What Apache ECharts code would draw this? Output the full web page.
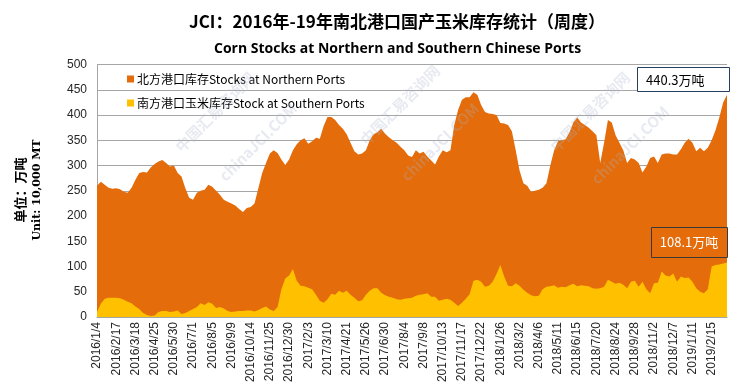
<!DOCTYPE html>
<html>
<head>
<meta charset="utf-8">
<script src="https://cdn.jsdelivr.net/npm/echarts@6/dist/echarts.min.js"></script>
<style>
html,body{margin:0;padding:0;background:#fff;}
#c{width:750px;height:386px;}
</style>
</head>
<body>
<div id="c"></div>
<script>
// Tick label dates (every 5th weekly observation)
var tickDates = ['2016/1/4','2016/2/17','2016/3/18','2016/4/25','2016/5/30','2016/7/1','2016/8/5','2016/9/9','2016/10/14','2016/11/25','2016/12/30',
  '2017/2/3','2017/3/10','2017/4/21','2017/5/26','2017/6/30','2017/8/4','2017/9/8','2017/10/13','2017/11/17','2017/12/22',
  '2018/1/26','2018/3/2','2018/4/6','2018/5/11','2018/6/15','2018/7/20','2018/8/24','2018/9/28','2018/11/2','2018/12/7',
  '2019/1/11','2019/2/15'];

// 北方港口库存 (万吨)
var northern = [
  260,268,262,256,254,255,253,248,246,256,
  272,285,287,286,296,303,308,311,305,298,
  300,285,278,255,236,232,246,250,252,262,
  258,250,242,232,228,225,221,214,208,216,
  218,225,255,285,305,324,330,325,312,301,
  312,330,342,350,354,343,348,355,353,378,
  396,396,390,380,373,362,345,328,322,324,
  330,350,362,366,373,363,356,350,345,337,
  330,320,317,330,324,327,318,310,302,318,
  330,326,330,380,410,430,435,435,445,440,
  420,406,403,402,400,384,383,380,368,330,
  290,265,260,248,250,252,256,265,300,330,
  348,350,352,366,385,395,385,380,375,368,
  360,305,345,390,385,360,345,330,305,315,
  312,305,286,298,315,318,305,322,324,324,
  322,322,332,345,353,345,328,335,328,335,
  350,370,395,425,440.3
];

// 南方港口玉米库存 (万吨)
var southern = [
  10,26,36,38,38,38,37,34,30,27,
  21,16,8,4,2,3,10,12,12,10,
  11,13,6,8,12,16,20,27,24,29,
  26,18,20,17,12,10,11,12,12,13,
  13,11,14,18,21,15,12,20,55,76,
  82,95,72,62,61,58,55,44,32,28,
  35,46,44,52,48,52,44,38,31,33,
  44,52,57,57,48,43,40,38,35,34,
  36,37,38,42,44,45,47,40,40,32,
  34,36,34,28,22,28,36,45,72,74,
  70,60,62,70,85,103,80,62,61,67,
  62,54,48,43,41,42,55,60,61,63,
  58,60,59,63,66,61,63,62,61,57,
  56,57,60,74,70,66,68,64,57,70,
  72,60,70,55,47,67,68,90,82,80,
  86,70,80,77,78,70,57,50,47,55,
  100,103,104,106,108.1
];

var seriesNames = ['北方港口库存Stocks at Northern Ports', '南方港口玉米库存Stock at Southern Ports'];
var yTicks = {min: 0, max: 500, interval: 50};

// Build weekly category labels from the tick dates
function fmt(d){ return d.getFullYear() + '/' + (d.getMonth()+1) + '/' + d.getDate(); }
var categories = [];
for (var t = 0; t < tickDates.length; t++) {
  var p = tickDates[t].split('/');
  var base = new Date(+p[0], +p[1]-1, +p[2]);
  categories.push(tickDates[t]);
  for (var k = 1; k < 5 && categories.length < northern.length; k++) {
    var d = new Date(base.getTime()); d.setDate(d.getDate() + 7*k);
    categories.push(fmt(d));
  }
}

var chart = echarts.init(document.getElementById('c'), null, {renderer: 'canvas'});
var wmColor = 'rgba(170,180,200,0.28)';
function wm(text, x, y) {
  return {type: 'text', x: x, y: y, rotation: Math.PI/4, z: 50,
    style: {text: text, fill: wmColor, font: 'bold 15px "Noto Sans CJK SC"', textAlign: 'center', textVerticalAlign: 'middle'}};
}
var option = {
  animation: false,
  backgroundColor: '#fff',
  title: [
    {text: 'JCI：2016年-19年南北港口国产玉米库存统计（周度）', left: 184, top: 8,
     textStyle: {fontFamily: 'Noto Sans CJK SC', fontWeight: 'bold', fontSize: 17, color: '#000'}},
    {text: 'Corn Stocks at Northern and Southern Chinese Ports', left: 209, top: 37,
     textStyle: {fontFamily: 'Open Sans', fontWeight: 'bold', fontSize: 14, color: '#000'}}
  ],
  legend: {
    orient: 'vertical', left: 122, top: 68, itemGap: 12,
    itemWidth: 7, itemHeight: 7, icon: 'rect',
    textStyle: {fontFamily: 'Noto Sans CJK SC', fontSize: 12, color: '#000', padding: [0,0,0,-2]},
    data: seriesNames
  },
  grid: {left: 97, right: 23, top: 64.5, bottom: 69, containLabel: false},
  xAxis: {
    type: 'category', data: categories, boundaryGap: false,
    axisLine: {show: true, lineStyle: {color: '#a6a6a6'}},
    axisTick: {show: false},
    axisLabel: {interval: 4, rotate: 90, fontFamily: 'Liberation Sans', fontSize: 12, color: '#262626', margin: 5}
  },
  yAxis: {
    type: 'value', min: yTicks.min, max: yTicks.max, interval: yTicks.interval,
    axisLine: {show: true, lineStyle: {color: '#a6a6a6'}},
    axisTick: {show: false},
    splitLine: {lineStyle: {color: '#a6a6a6', width: 1}},
    axisLabel: {fontFamily: 'Liberation Sans', fontSize: 12, color: '#262626', margin: 10}
  },
  series: [
    {name: seriesNames[0], type: 'line', data: northern, symbol: 'none', smooth: false,
     lineStyle: {width: 0}, itemStyle: {color: '#E46C0A'}, areaStyle: {color: '#E46C0A', opacity: 1}, z: 2},
    {name: seriesNames[1], type: 'line', data: southern, symbol: 'none', smooth: false,
     lineStyle: {width: 0}, itemStyle: {color: '#FFC000'}, areaStyle: {color: '#FFC000', opacity: 1}, z: 3}
  ],
  graphic: [
    {type: 'text', x: 20, y: 190, rotation: Math.PI/2,
     style: {text: '单位：万吨', font: 'bold 13px "Noto Sans CJK SC"', fill: '#000', textAlign: 'center', textVerticalAlign: 'middle'}},
    {type: 'text', x: 37, y: 190, rotation: Math.PI/2,
     style: {text: 'Unit: 10,000 MT', font: 'bold 11px "DejaVu Serif"', fill: '#000', textAlign: 'center', textVerticalAlign: 'middle'}},
    wm('中国汇易咨询网', 215, 112), wm('chinaJCI.COM', 258, 142),
    wm('中国汇易咨询网', 400, 105), wm('chinaJCI.COM', 440, 142),
    wm('中国汇易咨询网', 590, 112), wm('chinaJCI.COM', 630, 145),
    {type: 'rect', z: 60, shape: {x: 637.5, y: 67.5, width: 92, height: 24},
     style: {fill: '#fff', stroke: '#243F60', lineWidth: 1}},
    {type: 'text', z: 61, x: 646, y: 80,
     style: {text: northern[northern.length-1].toFixed(1) + '万吨', font: '13px "Noto Sans CJK SC"', fill: '#000', textVerticalAlign: 'middle'}},
    {type: 'rect', z: 60, shape: {x: 651.5, y: 227.5, width: 76, height: 30},
     style: {fill: 'rgba(0,0,0,0)', stroke: '#3a3a3a', lineWidth: 1}},
    {type: 'text', z: 61, x: 689, y: 242,
     style: {text: southern[southern.length-1].toFixed(1) + '万吨', font: '13px "Noto Sans CJK SC"', fill: '#fff', textAlign: 'center', textVerticalAlign: 'middle'}}
  ]
};
chart.setOption(option);
</script>
</body>
</html>
